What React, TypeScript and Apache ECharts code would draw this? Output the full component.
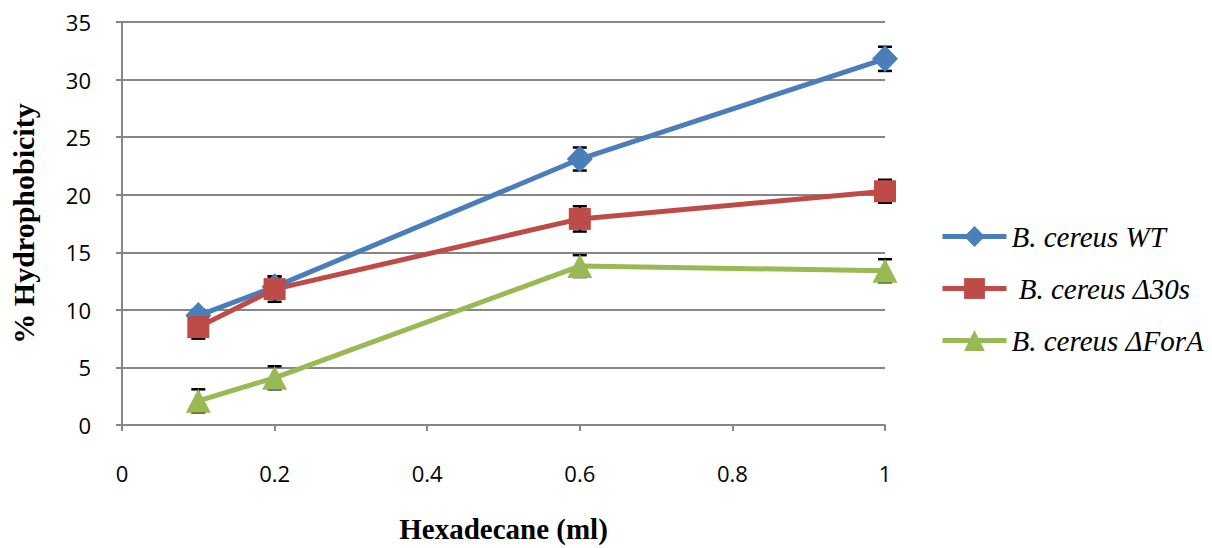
import React, { useEffect, useRef } from "react";
import * as echarts from "echarts";

const xValues = [0.1, 0.2, 0.6, 1];
const seriesNames = ["B. cereus WT", " B. cereus Δ30s", "B. cereus ΔForA"];
const wtValues = [9.5, 12.0, 23.1, 31.8];
const d30sValues = [8.5, 11.8, 17.9, 20.3];
const forAValues = [2.1, 4.1, 13.8, 13.4];
const wtErrors = [0.5, 0.9, 1.0, 1.05];
const d30sErrors = [1.0, 1.1, 1.1, 1.0];
const forAErrors = [1.0, 1.0, 0.95, 1.0];
const colors = ["#4A7EBB", "#BE4B48", "#98B954"];
const symbols = ["diamond", "rect", "triangle"];
const symbolSizes = [[26, 27], [22, 22], [25, 24]];

export default function App() {
  const ref = useRef<HTMLDivElement>(null);
  useEffect(() => {
    if (!ref.current) return;
    const chart = echarts.init(ref.current, undefined, { renderer: "svg" });
    const allValues = [wtValues, d30sValues, forAValues];
    const allErrors = [wtErrors, d30sErrors, forAErrors];
    const errData: number[][] = [];
    allValues.forEach((vals, s) => {
      vals.forEach((v, i) => {
        errData.push([xValues[i], v - allErrors[s][i], v + allErrors[s][i]]);
      });
    });
    const lineSeries = allValues.map((vals, s) => ({
      name: seriesNames[s],
      type: "line",
      data: vals.map((v, i) => [xValues[i], v]),
      symbol: symbols[s],
      symbolSize: symbolSizes[s],
      showAllSymbol: true,
      lineStyle: { color: colors[s], width: 5 },
      itemStyle: { color: colors[s], opacity: 1 },
      z: 3,
    }));
    chart.setOption({
      animation: false,
      grid: { left: 121, right: 327, top: 22, bottom: 122 },
      legend: {
        orient: "vertical",
        left: 935,
        top: 217,
        itemGap: 23,
        itemWidth: 64,
        itemHeight: 26,
        data: seriesNames,
        lineStyle: { width: 5 },
        textStyle: {
          fontFamily: "Liberation Serif",
          fontStyle: "italic",
          fontSize: 29,
          color: "#000",
        },
      },
      xAxis: {
        type: "value",
        min: 0,
        max: 1,
        interval: 0.2,
        name: "Hexadecane (ml)",
        nameLocation: "middle",
        nameGap: 89,
        nameTextStyle: {
          fontFamily: "Liberation Serif",
          fontWeight: "bold",
          fontSize: 29,
          color: "#000",
        },
        axisLine: { lineStyle: { color: "#868686", width: 2 } },
        axisTick: { show: true, length: 6, lineStyle: { color: "#868686", width: 2 } },
        axisLabel: {
          margin: 37,
          fontFamily: "Open Sans",
          fontSize: 22,
          color: "#000",
          formatter: (v: number) => String(Math.round(v * 10) / 10),
        },
        splitLine: { show: false },
      },
      yAxis: {
        type: "value",
        min: 0,
        max: 35,
        interval: 5,
        name: "% Hydrophobicity",
        nameLocation: "middle",
        nameGap: 84,
        nameRotate: 90,
        nameTextStyle: {
          fontFamily: "Liberation Serif",
          fontWeight: "bold",
          fontSize: 30,
          color: "#000",
        },
        axisLine: { show: true, lineStyle: { color: "#868686", width: 2 } },
        axisTick: { show: true, length: 6, lineStyle: { color: "#868686", width: 2 } },
        axisLabel: {
          margin: 31,
          fontFamily: "Open Sans",
          fontSize: 22,
          color: "#000",
        },
        splitLine: { show: true, lineStyle: { color: "#868686", width: 2 } },
      },
      series: [
        {
          type: "custom",
          name: "errors",
          data: errData,
          z: 2,
          silent: true,
          renderItem: (params: any, api: any) => {
            const x = api.value(0);
            const lo = api.coord([x, api.value(1)]);
            const hi = api.coord([x, api.value(2)]);
            const hw = 7;
            const style = { stroke: "#000", lineWidth: 2.5 };
            return {
              type: "group",
              children: [
                { type: "line", shape: { x1: lo[0], y1: lo[1], x2: hi[0], y2: hi[1] }, style },
                { type: "line", shape: { x1: lo[0] - hw, y1: lo[1], x2: lo[0] + hw, y2: lo[1] }, style },
                { type: "line", shape: { x1: hi[0] - hw, y1: hi[1], x2: hi[0] + hw, y2: hi[1] }, style },
              ],
            };
          },
        },
        ...lineSeries,
      ],
    });
    return () => chart.dispose();
  }, []);
  return <div ref={ref} style={{ width: 1212, height: 548, position: "absolute", left: 0, top: 0, background: "#fff" }} />;
}
